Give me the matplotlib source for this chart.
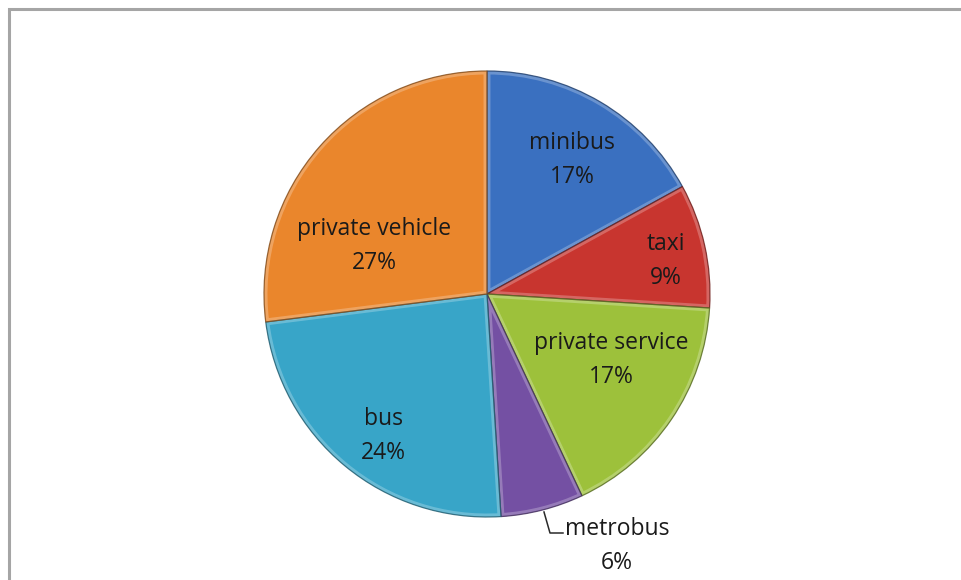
import matplotlib
matplotlib.use("Agg")
import matplotlib.pyplot as plt
from matplotlib.patches import Wedge
import matplotlib.colors as mcolors

# transport mode share
modes = ["minibus", "taxi", "private service", "metrobus", "bus", "private vehicle"]
shares = [17, 9, 17, 6, 24, 27]
colors = ["#3A70C0", "#C8352F", "#9DC13B", "#7450A3", "#38A5C8", "#EA862C"]

# label centres in pixel space (x, y from top)
label_xy = [(572, 160), (666, 261), (611, 360), (617, 546), (383, 436), (374, 246)]

W, H = 961, 580
cx, cy, r = 487, H - 294, 223

fig = plt.figure(figsize=(W / 100, H / 100), dpi=100)
ax = fig.add_axes([0, 0, 1, 1])

wedges, _ = ax.pie(shares, colors=colors, startangle=90, counterclock=False,
                   center=(cx, cy), radius=r, frame=True,
                   wedgeprops=dict(linewidth=0))
ax.set_xlim(0, W)
ax.set_ylim(0, H)
ax.axis("off")

# chart frame (right and bottom edges fall outside the image)
ax.plot([8.5, 8.5, W + 10], [-10, H - 8.5, H - 8.5], color="#A5A5A5", lw=2.2,
        solid_joinstyle="miter")

# bevel look: light inner rim + dark outline on each slice
for w, c in zip(wedges, colors):
    light = mcolors.to_rgb(c)
    light = tuple(v + (1 - v) * 0.45 for v in light)
    dark = tuple(v * 0.55 for v in mcolors.to_rgb(c))
    rim = Wedge(w.center, w.r, w.theta1, w.theta2, facecolor="none",
                edgecolor=light, linewidth=5, alpha=0.55)
    rim.set_clip_path(w)
    ax.add_patch(rim)
    edge = Wedge(w.center, w.r, w.theta1, w.theta2, facecolor="none",
                 edgecolor=dark, linewidth=0.9, alpha=0.8)
    ax.add_patch(edge)

for name, val, (x, y) in zip(modes, shares, label_xy):
    ax.text(x, H - y, f"{name}\n{val}%", ha="center", va="center",
            fontsize=16.5, family="Open Sans", color="#1A1A1A", linespacing=1.6)

# leader line for the small metrobus slice
ax.plot([544, 550, 563], [H - 512, H - 533, H - 533], color="#2A2A2A", lw=1.1)

fig.savefig("out.png", dpi=100)
